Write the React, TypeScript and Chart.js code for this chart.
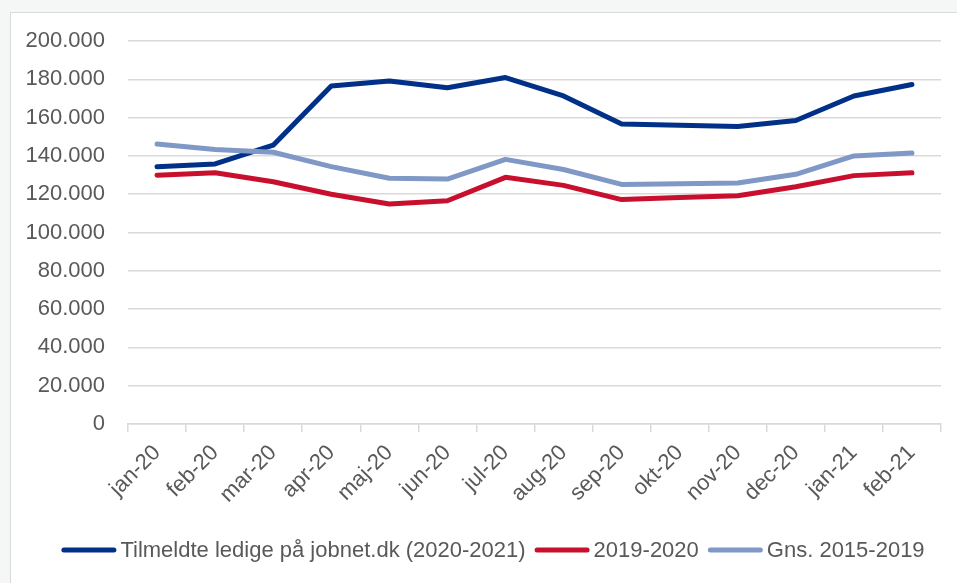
import React, { useEffect, useRef } from "react";
import { Chart, registerables } from "chart.js";

Chart.register(...registerables);

const categories = ["jan-20", "feb-20", "mar-20", "apr-20", "maj-20", "jun-20", "jul-20", "aug-20", "sep-20", "okt-20", "nov-20", "dec-20", "jan-21", "feb-21"];
const ledige = [134300, 135800, 145600, 176500, 179100, 175600, 180900, 171300, 156600, 156000, 155400, 158500, 171300, 177300];
const aar1920 = [129900, 131200, 126500, 120000, 114900, 116600, 128800, 124600, 117200, 118300, 119200, 123900, 129700, 131200];
const gns1519 = [146200, 143400, 141900, 134400, 128300, 127900, 138200, 132900, 125100, 125400, 125800, 130400, 140000, 141500];
const seriesNames = ["Tilmeldte ledige på jobnet.dk (2020-2021)", "2019-2020", "Gns. 2015-2019"];
const seriesColors = ["#003087", "#C8102E", "#7F98C6"];

const FONT = "'Liberation Sans', Arial, sans-serif";
const TEXT = "#595959";
const GRID = "#d9d9d9";

const fmt = (v: number) => String(v).replace(/\B(?=(\d{3})+(?!\d))/g, ".");

const lineLegend = {
  id: "lineLegend",
  afterDraw(chart: any) {
    const ctx = chart.ctx;
    const lineW = 55, gapText = 4, gapItem = 9, centerX = 493, y = 550;
    ctx.save();
    ctx.font = `22px ${FONT}`;
    const items = chart.data.datasets.map((d: any) => ({ label: d.label, color: d.borderColor, w: ctx.measureText(d.label).width }));
    const total = items.reduce((s: number, it: any) => s + lineW + gapText + it.w, 0) + gapItem * (items.length - 1);
    let x = centerX - total / 2;
    ctx.textBaseline = "middle";
    ctx.textAlign = "left";
    for (const it of items) {
      ctx.strokeStyle = it.color;
      ctx.lineWidth = 5;
      ctx.lineCap = "round";
      ctx.beginPath();
      ctx.moveTo(x + 2.5, y);
      ctx.lineTo(x + lineW - 2.5, y);
      ctx.stroke();
      x += lineW + gapText;
      ctx.fillStyle = TEXT;
      ctx.fillText(it.label, x, y + 1);
      x += it.w + gapItem;
    }
    ctx.restore();
  },
};

export default function App() {
  const ref = useRef<HTMLCanvasElement>(null);
  useEffect(() => {
    if (!ref.current) return;
    const mk = (i: number, data: number[], order: number) => ({
      label: seriesNames[i],
      data,
      borderColor: seriesColors[i],
      backgroundColor: seriesColors[i],
      borderWidth: 5,
      borderCapStyle: "round" as const,
      borderJoinStyle: "round" as const,
      pointRadius: 0,
      tension: 0,
      order,
    });
    const chart = new Chart(ref.current, {
      type: "line",
      data: {
        labels: categories,
        datasets: [mk(0, ledige, 2), mk(1, aar1920, 1), mk(2, gns1519, 0)],
      },
      plugins: [lineLegend],
      options: {
        animation: false,
        responsive: false,
        devicePixelRatio: 1,
        layout: { padding: { top: 41, right: 16, left: 0, bottom: 59 } },
        plugins: {
          tooltip: { enabled: false },
          legend: { display: false },
        },
        scales: {
          x: {
            offset: true,
            afterFit: (s: any) => { s.height = 100; },
            grid: { display: true, drawOnChartArea: false, drawTicks: true, tickLength: 8, offset: true, color: GRID, lineWidth: 1.5 },
            border: { display: true, color: GRID, width: 1.5 },
            ticks: { color: TEXT, font: { family: FONT, size: 22 }, maxRotation: 45, minRotation: 45, padding: 8, autoSkip: false },
          },
          y: {
            min: 0,
            max: 200000,
            afterFit: (s: any) => { s.width = 128; },
            grid: { color: GRID, lineWidth: 1.5, drawTicks: false },
            border: { display: false },
            ticks: { stepSize: 20000, color: TEXT, padding: 23, font: { family: FONT, size: 22 }, callback: (v: any) => fmt(Number(v)) },
          },
        },
      },
    });
    return () => chart.destroy();
  }, []);
  return (
    <div style={{ position: "fixed", left: 0, top: 0, width: 957, height: 583, background: "#f5f7f7", overflow: "hidden" }}>
      <div style={{ position: "absolute", left: 10, top: 12, width: 960, height: 590, background: "#fff", borderLeft: "1px solid #d9d9d9", borderTop: "1px solid #d9d9d9" }} />
      <canvas ref={ref} width={957} height={583} style={{ position: "absolute", left: 0, top: 0, width: 957, height: 583 }} />
    </div>
  );
}
